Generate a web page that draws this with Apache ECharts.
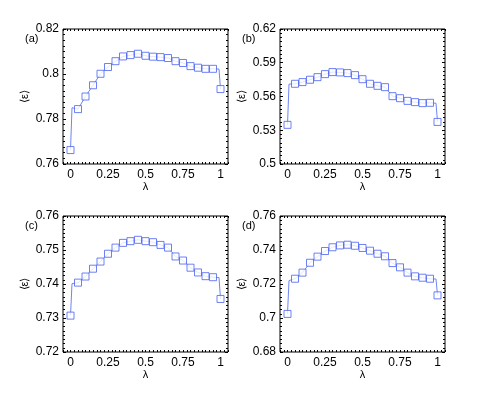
<!DOCTYPE html>
<html lang="en">
<head>
    <meta charset="UTF-8">
    <title>lambda panels</title>
    <script type="text/javascript" src="https://cdn.jsdelivr.net/npm/echarts@6/dist/echarts.min.js"></script>
</head>
<body style="margin:0;background:#fff;">
<div id="main" style="width: 491px;height:395px;"></div>

<script type="text/javascript">
    // lambda values for the markers
    var lam = [0, 0.05, 0.1, 0.15, 0.2, 0.25, 0.3, 0.35, 0.4, 0.45, 0.5,
               0.55, 0.6, 0.65, 0.7, 0.75, 0.8, 0.85, 0.9, 0.95, 1];
    var xTicks = [0, 0.25, 0.5, 0.75, 1];

    var valsA = [0.7662, 0.7844, 0.7900, 0.7950, 0.8001, 0.8031, 0.8057, 0.8078, 0.8084, 0.8090, 0.8081,
                 0.8077, 0.8075, 0.8071, 0.8057, 0.8049, 0.8035, 0.8028, 0.8023, 0.8023, 0.7933];
    var valsB = [0.5348, 0.5713, 0.5728, 0.5749, 0.5772, 0.5799, 0.5817, 0.5814, 0.5808, 0.5790, 0.5754,
                 0.5713, 0.5695, 0.5683, 0.5603, 0.5585, 0.5561, 0.5550, 0.5541, 0.5544, 0.5374];
    var valsC = [0.7307, 0.7404, 0.7422, 0.7445, 0.7466, 0.7489, 0.7507, 0.7521, 0.7526, 0.7530, 0.7526,
                 0.7523, 0.7515, 0.7507, 0.7481, 0.7469, 0.7448, 0.7434, 0.7423, 0.7420, 0.7356];
    var valsD = [0.7024, 0.7231, 0.7267, 0.7325, 0.7361, 0.7394, 0.7416, 0.7427, 0.7431, 0.7425, 0.7412,
                 0.7396, 0.7378, 0.7363, 0.7323, 0.7298, 0.7267, 0.7245, 0.7237, 0.7231, 0.7133];

    // curve values just inside the ends (lambda = 0.01 and 0.99)
    var edgeLam = [0.01, 0.99];
    var edgeA = [0.7850, 0.8022];
    var edgeB = [0.5710, 0.5540];
    var edgeC = [0.7401, 0.7419];
    var edgeD = [0.7220, 0.7229];

    var ticksA = [0.76, 0.78, 0.8, 0.82];
    var ticksB = [0.5, 0.53, 0.56, 0.59, 0.62];
    var ticksC = [0.72, 0.73, 0.74, 0.75, 0.76];
    var ticksD = [0.68, 0.7, 0.72, 0.74, 0.76];

    var labels = ['(a)', '(b)', '(c)', '(d)'];

    var panels = [
        {vals: valsA, edge: edgeA, ticks: ticksA, left: 63, top: 29, h: 135},
        {vals: valsB, edge: edgeB, ticks: ticksB, left: 280, top: 29, h: 135},
        {vals: valsC, edge: edgeC, ticks: ticksC, left: 63, top: 216, h: 136},
        {vals: valsD, edge: edgeD, ticks: ticksD, left: 280, top: 216, h: 136}
    ];

    var font = 'Liberation Sans, Arial, sans-serif';
    var grids = [], xAxes = [], yAxes = [], series = [], graphics = [];
    var tickStyle = {color: '#000', width: 1};

    panels.forEach(function (p, i) {
        grids.push({left: p.left, top: p.top, width: 165, height: p.h,
            show: true, borderColor: '#000', borderWidth: 1, backgroundColor: '#fff'});

        // bottom x axis (labels) and top x axis (ticks only)
        ['bottom', 'top'].forEach(function (pos) {
            xAxes.push({
                type: 'value', gridIndex: i, position: pos, min: -0.05, max: 1.05, interval: 0.025,
                name: pos === 'bottom' ? 'λ' : '', nameLocation: 'middle', nameGap: 17,
                nameTextStyle: {fontFamily: font, fontSize: 11, color: '#000'},
                axisLine: {show: false, onZero: false},
                splitLine: {show: false},
                axisTick: {inside: true, length: 2, lineStyle: tickStyle},
                axisLabel: {show: pos === 'bottom', customValues: xTicks,
                    fontFamily: font, fontSize: 12, color: '#000', margin: 5}
            });
        });

        var lo = p.ticks[0], hi = p.ticks[p.ticks.length - 1];
        var step = p.ticks[1] - p.ticks[0];
        ['left', 'right'].forEach(function (pos) {
            yAxes.push({
                type: 'value', gridIndex: i, position: pos, min: lo, max: hi, interval: step,
                name: pos === 'left' ? '⟨ε⟩' : '', nameLocation: 'middle', nameGap: 33, nameRotate: 90,
                nameTextStyle: {fontFamily: font, fontSize: 11, color: '#000'},
                axisLine: {show: false, onZero: false},
                splitLine: {show: false},
                axisTick: {inside: true, length: 3, lineStyle: tickStyle},
                minorTick: {show: true, splitNumber: 8, length: 2, lineStyle: tickStyle},
                axisLabel: {show: pos === 'left', customValues: p.ticks,
                    fontFamily: font, fontSize: 12, color: '#000', margin: 4}
            });
        });

        var xi = i * 2, yi = i * 2;

        // line with the two extra points near the ends
        var curve = [[lam[0], p.vals[0]], [edgeLam[0], p.edge[0]]];
        for (var k = 1; k < lam.length - 1; k++) curve.push([lam[k], p.vals[k]]);
        curve.push([edgeLam[1], p.edge[1]]);
        curve.push([lam[lam.length - 1], p.vals[lam.length - 1]]);
        series.push({
            type: 'line', xAxisIndex: xi, yAxisIndex: yi, data: curve,
            showSymbol: false, lineStyle: {color: '#7085f2', width: 1}, silent: true, z: 2
        });
        series.push({
            type: 'scatter', xAxisIndex: xi, yAxisIndex: yi,
            data: lam.map(function (x, k) { return [x, p.vals[k]]; }),
            symbol: 'rect', symbolSize: 7,
            itemStyle: {color: '#fff', borderColor: '#4a62f0', borderWidth: 1}, z: 3
        });

        graphics.push({
            type: 'text', left: p.left - 38, top: p.top + 4,
            style: {text: labels[i], fontFamily: font, fontSize: 11, fill: '#000'}
        });
    });

    var myChart = echarts.init(document.getElementById('main'));
    myChart.setOption({
        animation: false,
        grid: grids,
        xAxis: xAxes,
        yAxis: yAxes,
        series: series,
        graphic: graphics
    });
</script>
</body>
</html>
